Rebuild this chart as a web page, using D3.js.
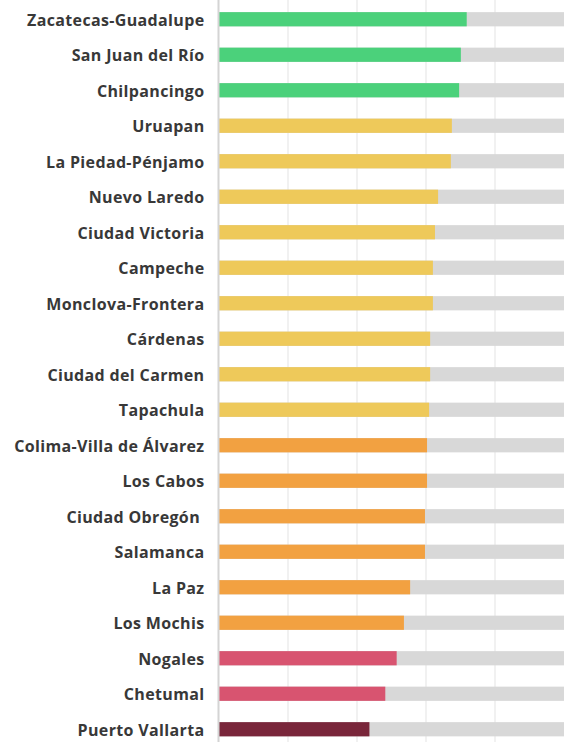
<!DOCTYPE html>
<html lang="es">
<head>
<meta charset="utf-8">
<title>Ciudades</title>
<script src="https://cdn.jsdelivr.net/npm/d3@7"></script>
<style>
  body { margin: 0; background: #fff; }
  .label { font-family: "Open Sans", sans-serif; font-weight: 700; font-size: 16px; letter-spacing: 0.35px; fill: #383838; white-space: pre; }
</style>
</head>
<body>
<script>
// cities, top to bottom
var cities = ["Zacatecas-Guadalupe", "San Juan del Río", "Chilpancingo", "Uruapan",
  "La Piedad-Pénjamo", "Nuevo Laredo", "Ciudad Victoria", "Campeche", "Monclova-Frontera",
  "Cárdenas", "Ciudad del Carmen", "Tapachula", "Colima-Villa de Álvarez", "Los Cabos",
  "Ciudad Obregón ", "Salamanca", "La Paz", "Los Mochis", "Nogales", "Chetumal", "Puerto Vallarta"];

// values (scale 0-100)
var values = [71.8, 70.1, 69.6, 67.5, 67.2, 63.5, 62.6, 62.0, 62.0, 61.2, 61.2, 60.9,
  60.3, 60.3, 59.7, 59.7, 55.4, 53.6, 51.5, 48.2, 43.6];

// colour group of each city
var groups = ["a", "a", "a", "b", "b", "b", "b", "b", "b", "b", "b", "b",
  "c", "c", "c", "c", "c", "c", "d", "d", "e"];

var gridTicks = [0, 20, 40, 60, 80, 100];

var w = 564, h = 742;
var x0 = 219, x1 = 564;

var color = d3.scaleOrdinal()
  .domain(["a", "b", "c", "d", "e"])
  .range(["#4bd17b", "#eec95a", "#f2a141", "#d85470", "#79263a"]);

var data = cities.map(function(c, i) {
  return { city: c, value: values[i], group: groups[i] };
});

var xScale = d3.scaleLinear().domain([0, 100]).range([x0, x1]);
var yScale = d3.scaleBand()
  .domain(cities)
  .range([1.5, 747])
  .paddingInner(0.6)
  .paddingOuter(0.3);

var svg = d3.select("body").append("svg")
  .attr("width", w)
  .attr("height", h);

// vertical gridlines
svg.selectAll("line.grid")
  .data(gridTicks.slice(1, -1))
  .enter()
  .append("line")
  .attr("class", "grid")
  .attr("x1", function(d) { return xScale(d); })
  .attr("x2", function(d) { return xScale(d); })
  .attr("y1", 0)
  .attr("y2", h)
  .attr("stroke", "#ececec")
  .attr("stroke-width", 1.5);

// grey tracks
svg.selectAll("rect.track")
  .data(data)
  .enter()
  .append("rect")
  .attr("class", "track")
  .attr("x", xScale(0))
  .attr("y", function(d) { return yScale(d.city); })
  .attr("width", xScale(100) - xScale(0))
  .attr("height", yScale.bandwidth())
  .attr("fill", "#d8d8d8");

// value bars
svg.selectAll("rect.bar")
  .data(data)
  .enter()
  .append("rect")
  .attr("class", "bar")
  .attr("x", xScale(0))
  .attr("y", function(d) { return yScale(d.city); })
  .attr("width", function(d) { return xScale(d.value) - xScale(0); })
  .attr("height", yScale.bandwidth())
  .attr("fill", function(d) { return color(d.group); });

// axis line
svg.append("line")
  .attr("x1", xScale(0) - 0.5)
  .attr("x2", xScale(0) - 0.5)
  .attr("y1", 0)
  .attr("y2", h)
  .attr("stroke", "#d4d4d4")
  .attr("stroke-width", 2);

// labels
svg.selectAll("text.label")
  .data(data)
  .enter()
  .append("text")
  .attr("class", "label")
  .attr("x", 204.5)
  .attr("y", function(d) { return yScale(d.city) + yScale.bandwidth() / 2; })
  .attr("dy", "0.42em")
  .attr("text-anchor", "end")
  .text(function(d) { return d.city; });
</script>
</body>
</html>
